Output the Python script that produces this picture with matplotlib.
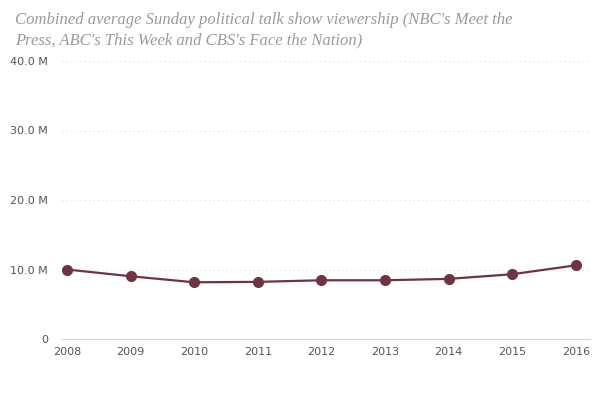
import matplotlib
matplotlib.use('Agg')
import matplotlib.pyplot as plt
from matplotlib.ticker import FuncFormatter

years = [2008, 2009, 2010, 2011, 2012, 2013, 2014, 2015, 2016]
viewers = [10.0, 9.03, 8.16, 8.22, 8.45, 8.45, 8.65, 9.32, 10.6]  # millions
yticks = [0, 10, 20, 30, 40]

fig = plt.figure(figsize=(6, 4), dpi=100)
ax = fig.add_axes([0.103, 0.1525, 0.88, 0.695])

ax.plot(years, viewers, color='#6e3441', linewidth=1.6, marker='o',
        markersize=7, markerfacecolor='#6e3441', markeredgecolor='#6e3441', zorder=3)

ax.set_xlim(2007.92, 2016.22)
ax.set_ylim(0, 40)
ax.set_xticks(years)
ax.set_yticks(yticks)
ax.yaxis.set_major_formatter(FuncFormatter(lambda v, p: '0' if v == 0 else '%.1f M' % v))

ax.grid(axis='y', color='#dddddd', linestyle=(0, (1, 3)), linewidth=0.8)
ax.set_axisbelow(True)
for s in ['top', 'right', 'left']:
    ax.spines[s].set_visible(False)
ax.spines['bottom'].set_color('#ccd6eb')
ax.tick_params(axis='both', length=0, labelsize=8, colors='#555555', pad=6)
ax.tick_params(axis='y', pad=10)

fig.text(0.025, 0.97, "Combined average Sunday political talk show viewership (NBC's Meet the\n"
         "Press, ABC's This Week and CBS's Face the Nation)",
         ha='left', va='top', fontsize=12, family='Liberation Serif',
         style='italic', color='#9a9a9a', linespacing=1.35)

fig.savefig('out.png', dpi=100)
